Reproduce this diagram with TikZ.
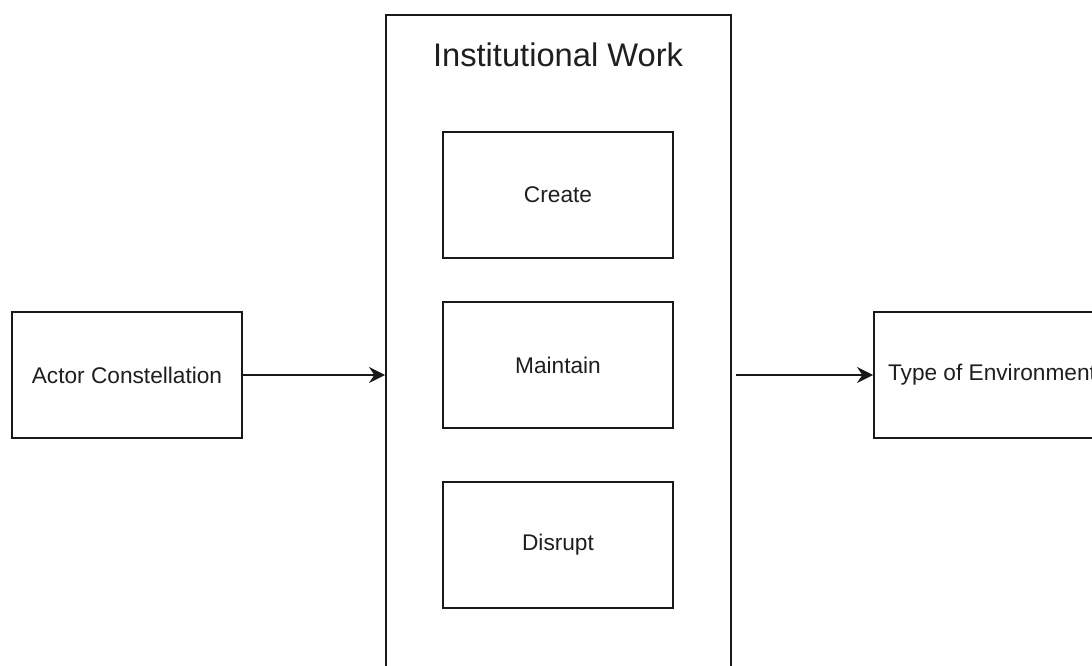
\documentclass[tikz,border=0pt]{standalone}
\usepackage{fontspec}
\setmainfont{Liberation Sans}
\usetikzlibrary{arrows.meta}
\begin{document}
\begin{tikzpicture}[x=0.75pt,y=-0.75pt,
  box/.style={draw=black!90, line width=1.5pt, inner sep=0pt, font=\fontsize{17}{20}\selectfont, text=black!88},
  smallbox/.style={box, minimum width=172.5pt, minimum height=94.5pt},
  arr/.style={draw=black!90, line width=1.3pt, -{Stealth[length=12pt, width=12pt, inset=4pt]}}]
\useasboundingbox (0,0) rectangle (1092,666);
\clip (0,0) rectangle (1092,666);
\fill[white] (0,0) rectangle (1092,666);
% outer container
\node[box, minimum width=258.75pt, minimum height=513.75pt] (iw) at (558.5,357.5) {};
\node[font=\fontsize{24.5}{28}\selectfont, text=black!88] (iwtitle) at (558,55) {Institutional Work};
% inner boxes
\node[smallbox] (create) at (558,195) {Create};
\node[smallbox] (maintain) at (558,365) {Maintain};
\node[smallbox] (disrupt) at (558,544.5) {Disrupt};
% side boxes
\node[smallbox] (actor) at (127,375) {Actor Constellation};
\node[box, minimum width=177pt, minimum height=94.5pt] (env) at (992,375) {Type of Environment};
% connectors
\draw[arr] (actor.east) -- (actor.east -| iw.west);
\draw[arr, shorten <=3pt] (env.west -| iw.east) -- (env.west);
\end{tikzpicture}
\end{document}
